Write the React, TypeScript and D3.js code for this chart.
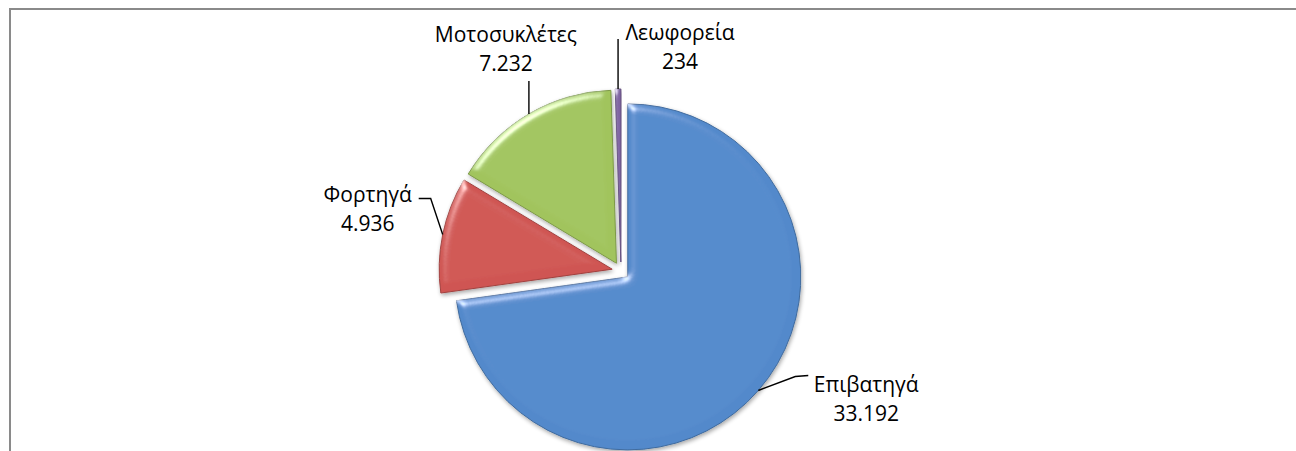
import React from "react";
import * as d3 from "d3";

// vehicle categories and counts
const categories = ["Επιβατηγά", "Φορτηγά", "Μοτοσυκλέτες", "Λεωφορεία"];
const values = [33192, 4936, 7232, 234];
const valueLabels = ["33.192", "4.936", "7.232", "234"];
const colors = ["#5289CB", "#CF5552", "#A1C45D", "#7F63A3"];

// label placement relative to leader start (not data)
const labelLayout = [
  { leader: [[37, -14], [50, -15]], tx: 108, ty: 2 },
  { leader: [[-12, -36], [-24, -36]], tx: -75, ty: -33 },
  { leader: [[0, -33]], tx: -23, ty: -72 },
  { leader: [[0, -50]], tx: 62, ty: -49 },
];

const W = 1296;
const H = 451;
const cx = 621;
const cy = 271;
const R = 173;
const explode = 9;

export default function App() {
  const pie = d3.pie<number>().sort(null).value((d) => d);
  const arcs = pie(values);
  const arc = d3.arc<d3.PieArcDatum<number>>().innerRadius(0).outerRadius(R);

  return (
    <svg
      width={W}
      height={H}
      style={{ position: "absolute", left: 0, top: 0, background: "#fff" }}
      fontFamily="'Open Sans', 'Noto Sans', sans-serif"
    >
      <defs>
        <filter id="bevel" x="-10%" y="-10%" width="120%" height="120%">
          <feGaussianBlur in="SourceAlpha" stdDeviation="4" result="blur" />
          <feSpecularLighting
            in="blur"
            surfaceScale="4"
            specularConstant="0.9"
            specularExponent="40"
            lightingColor="#ffffff"
            result="spec"
          >
            <feDistantLight azimuth="235" elevation="40" />
          </feSpecularLighting>
          <feComposite in="spec" in2="SourceAlpha" operator="in" result="specIn" />
          <feComposite
            in="SourceGraphic"
            in2="specIn"
            operator="arithmetic"
            k1="0"
            k2="1"
            k3="0.7"
            k4="0"
            result="lit"
          />
          <feGaussianBlur in="SourceAlpha" stdDeviation="2" result="sh" />
          <feOffset in="sh" dx="1" dy="2" result="shOff" />
          <feComponentTransfer in="shOff" result="shFade">
            <feFuncA type="linear" slope="0.35" />
          </feComponentTransfer>
          <feMerge>
            <feMergeNode in="shFade" />
            <feMergeNode in="lit" />
          </feMerge>
        </filter>
      </defs>
      <rect x={10} y={9} width={W + 20} height={H + 20} fill="#fff" stroke="#8a8a8a" strokeWidth={2} />
      <g transform={`translate(${cx},${cy})`}>
        {arcs.map((a, i) => {
          const mid = (a.startAngle + a.endAngle) / 2;
          const ox = explode * Math.sin(mid);
          const oy = -explode * Math.cos(mid);
          return (
            <g key={categories[i]} transform={`translate(${ox},${oy})`}>
              <path d={arc(a) || ""} fill={colors[i]} stroke={d3.color(colors[i])!.darker(0.7).toString()} strokeWidth={1} filter="url(#bevel)" />
            </g>
          );
        })}
        {arcs.map((a, i) => {
          const mid = (a.startAngle + a.endAngle) / 2;
          const px = (R + explode) * Math.sin(mid);
          const py = -(R + explode) * Math.cos(mid);
          const lay = labelLayout[i];
          const pts: [number, number][] = [[px, py], ...lay.leader.map((p) => [px + p[0], py + p[1]] as [number, number])];
          const line = d3.line();
          return (
            <g key={"l" + categories[i]}>
              <path d={line(pts) || ""} fill="none" stroke="#000" strokeWidth={1.4} />
              <text x={px + lay.tx} y={py + lay.ty} textAnchor="middle" fontSize={21} fill="#000">
                <tspan x={px + lay.tx}>{categories[i]}</tspan>
                <tspan x={px + lay.tx} dy={29}>{valueLabels[i]}</tspan>
              </text>
            </g>
          );
        })}
      </g>
    </svg>
  );
}
